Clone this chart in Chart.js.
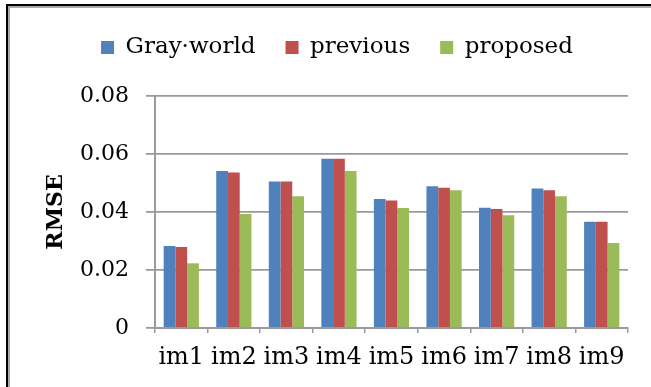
<!DOCTYPE html>
<html>
<head>
<meta charset="UTF-8">
<title>RMSE chart</title>
<script src="https://cdn.jsdelivr.net/npm/chart.js"></script>
<style>
    body {
        margin: 0;
        background: #fff;
        overflow: hidden;
    }
    .wrap {
        position: relative;
        width: 651px;
        height: 387px;
        overflow: hidden;
    }
    /* outer frame: only its top and left edges fall inside the picture */
    .line {
        position: absolute;
    }
    .top-black  { left: 6px; top: 4px; width: 645px; height: 2px; background: #000; }
    .left-black { left: 6px; top: 4px; width: 2px; height: 383px; background: #000; }
    .top-gray   { left: 8px; top: 6px; width: 643px; height: 2px; background: #aaa; }
    .left-gray  { left: 8px; top: 6px; width: 2px; height: 381px; background: #aaa; }
    #chart {
        position: absolute;
        left: 0;
        top: 0;
    }
</style>
</head>
<body>
<div class="wrap">
    <div class="line top-black"></div>
    <div class="line left-black"></div>
    <div class="line top-gray"></div>
    <div class="line left-gray"></div>
    <canvas id="chart" width="651" height="387"></canvas>
</div>
<script>
    // data
    const images = ['im1', 'im2', 'im3', 'im4', 'im5', 'im6', 'im7', 'im8', 'im9'];
    const grayWorld = [0.0283, 0.0541, 0.0505, 0.0584, 0.0445, 0.0489, 0.0415, 0.0481, 0.0366];
    const previous  = [0.0279, 0.0536, 0.0505, 0.0584, 0.0440, 0.0484, 0.0410, 0.0475, 0.0366];
    const proposed  = [0.0223, 0.0393, 0.0454, 0.0541, 0.0414, 0.0475, 0.0389, 0.0454, 0.0293];
    const yTicks = [0, 0.02, 0.04, 0.06, 0.08];

    const font = 'DejaVu Serif';
    const gridGray = '#9a9a9a';

    // push the plot area down below the legend
    const legendGap = {
        id: 'legendGap',
        afterInit(chart) {
            const fit = chart.legend.fit;
            chart.legend.fit = function () {
                fit.call(this);
                this.height += 27;
            };
        }
    };

    const ctx = document.getElementById('chart').getContext('2d');
    new Chart(ctx, {
        type: 'bar',
        data: {
            labels: images,
            datasets: [
                { label: 'Gray\u00b7world', data: grayWorld, backgroundColor: '#4F81BD' },
                { label: 'previous', data: previous, backgroundColor: '#C0504D' },
                { label: 'proposed', data: proposed, backgroundColor: '#9BBB59' }
            ]
        },
        options: {
            responsive: false,
            animation: false,
            categoryPercentage: 0.67,
            barPercentage: 1,
            layout: { padding: { left: 46, right: 23, top: 6, bottom: 0 } },
            plugins: {
                tooltip: { enabled: false },
                legend: {
                    position: 'top',
                    labels: {
                        boxWidth: 13,
                        boxHeight: 13,
                        padding: 30,
                        color: '#000',
                        font: { family: font, size: 23 }
                    }
                }
            },
            scales: {
                x: {
                    grid: {
                        offset: true,
                        drawOnChartArea: false,
                        drawTicks: true,
                        tickLength: 5,
                        color: gridGray,
                        lineWidth: 1.5
                    },
                    border: { display: true, color: gridGray, width: 2 },
                    ticks: {
                        color: '#000',
                        padding: 10,
                        maxRotation: 0,
                        font: { family: font, size: 24 }
                    },
                    afterFit(scale) { scale.height = 59; }
                },
                y: {
                    min: 0,
                    max: 0.08,
                    afterBuildTicks(scale) {
                        scale.ticks = yTicks.map(v => ({ value: v }));
                    },
                    grid: {
                        color: gridGray,
                        lineWidth: 1.8,
                        tickLength: 9
                    },
                    border: { display: true, color: gridGray, width: 2 },
                    ticks: {
                        color: '#000',
                        padding: 17,
                        font: { family: font, size: 22 },
                        callback: v => v === 0 ? '0' : v.toFixed(2)
                    },
                    title: {
                        display: true,
                        text: 'RMSE',
                        color: '#000',
                        padding: { top: -1, bottom: 0 },
                        font: { family: font, size: 22, weight: 'bold', lineHeight: 1 }
                    },
                    afterFit(scale) { scale.width = 109; }
                }
            }
        },
        plugins: [legendGap]
    });
</script>
</body>
</html>
